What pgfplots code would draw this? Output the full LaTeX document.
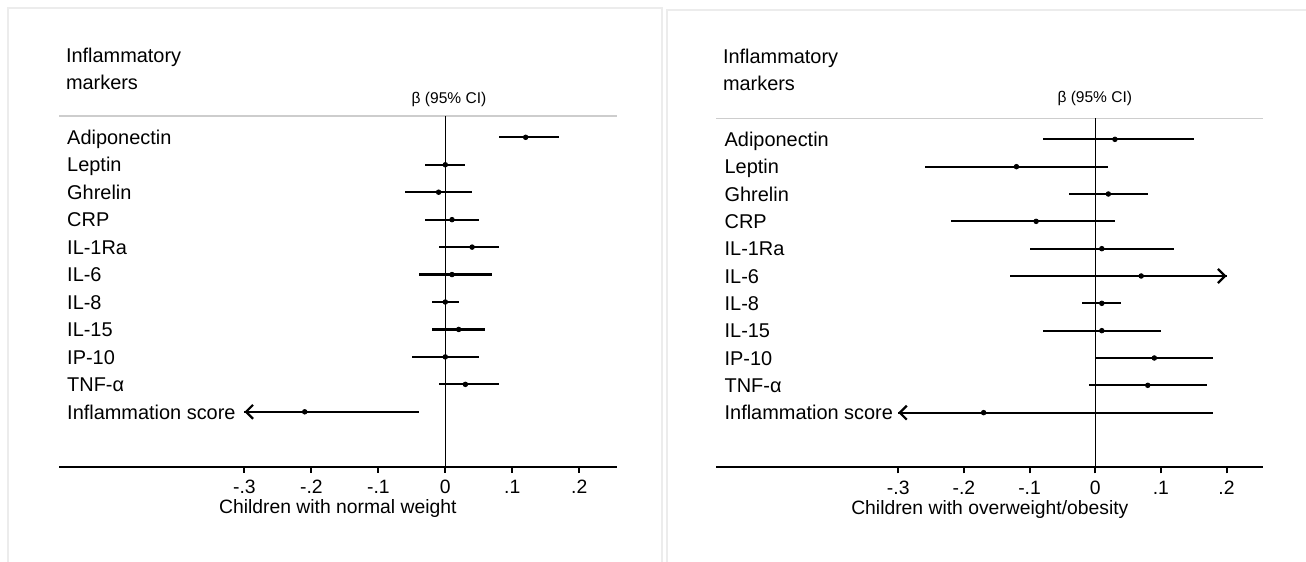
\documentclass[border=0pt]{standalone}
\usepackage{fontspec}
\setmainfont{Liberation Sans}
\usepackage{pgfplots}
\pgfplotsset{compat=1.18}
\usepackage{pgfplotstable}
\usetikzlibrary{arrows.meta}

\definecolor{framegray}{RGB}{236,236,236}
\definecolor{topline}{RGB}{205,205,205}

% row: negative position (1 = top row)
\pgfplotstableread{
row lo pt hi
-1 0.08 0.12 0.17
-2 -0.03 0.00 0.03
-3 -0.06 -0.01 0.04
-4 -0.03 0.01 0.05
-5 -0.01 0.04 0.08
-6 -0.04 0.01 0.07
-7 -0.02 0.00 0.02
-8 -0.02 0.02 0.06
-9 -0.05 0.00 0.05
-10 -0.01 0.03 0.08
-11 -0.30 -0.21 -0.04
}\normaltab

\pgfplotstableread{
row lo pt hi
-1 -0.08 0.03 0.15
-2 -0.26 -0.12 0.02
-3 -0.04 0.02 0.08
-4 -0.22 -0.09 0.03
-5 -0.10 0.01 0.12
-6 -0.13 0.07 0.20
-7 -0.02 0.01 0.04
-8 -0.08 0.01 0.10
-9 0.00 0.09 0.18
-10 -0.01 0.08 0.17
-11 -0.30 -0.17 0.18
}\obesetab

\pgfplotsset{
  forest/.style={
    scale only axis, anchor=south west, clip=false,
    xmin=-0.577, xmax=0.256, ymin=-13,
    axis x line*=bottom, axis y line*=left,
    y axis line style={draw=none},
    x axis line style={line width=1bp},
    xtick={-0.3,-0.2,-0.1,0,0.1,0.2},
    xticklabels={-.3,-.2,-.1,0,.1,.2},
    ytick={-11,-10,-9,-8,-7,-6,-5,-4,-3,-2,-1},
    yticklabels={Inflammation score,TNF-α,IP-10,IL-15,IL-8,IL-6,IL-1Ra,CRP,Ghrelin,Leptin,Adiponectin},
    ytick style={draw=none},
    xtick style={line width=1bp, black},
    tick align=outside, major tick length=3bp,
    yticklabel style={anchor=base west, xshift=3.6bp, yshift=-3.6bp, font=\fontsize{10}{12}\selectfont},
    xticklabel style={anchor=base, yshift=-10.6bp, font=\fontsize{9.7}{12}\selectfont},
    xlabel style={at={(rel axis cs:0.5,0)}, anchor=base, yshift=-23.4bp, font=\fontsize{9.7}{12}\selectfont},
  },
  ci/.style={black, mark=*, mark size=1.15bp, only marks,
    error bars/.cd, x dir=both, x explicit, error mark=none,
    error bar style={line width=1.1bp, black}},
}

\begin{document}
\begin{tikzpicture}
\useasboundingbox (0bp,-281bp) rectangle (653bp,0bp);
\draw[framegray, line width=0.8bp] (4bp,-282bp) -- (4bp,-4bp) -- (330.85bp,-4bp) -- (330.85bp,-282bp);
\draw[framegray, line width=0.8bp] (333.35bp,-282bp) -- (333.35bp,-5bp) -- (654bp,-5bp);

% ---------- left panel ----------
\node[anchor=base west, inner sep=0, font=\fontsize{10}{12}\selectfont] at (32.8bp,-31.2bp) {Inflammatory};
\node[anchor=base west, inner sep=0, font=\fontsize{10}{12}\selectfont] at (32.8bp,-44.8bp) {markers};
\node[anchor=base, inner sep=0, font=\fontsize{7.8}{9}\selectfont] at (224.5bp,-51.75bp) {β (95\% CI)};
\begin{axis}[forest, at={(29.5bp,-233.35bp)}, width=278.85bp, height=175.35bp,
    ymax=-0.224, xlabel={Children with normal weight}]
  \addplot[topline, line width=0.75bp] coordinates {(-0.577,-0.224) (0.256,-0.224)};
  \addplot[black, line width=0.65bp] coordinates {(0,-0.224) (0,-13)};
  \addplot[ci] table[x=pt, y=row,
      x error plus expr=\thisrow{hi}-\thisrow{pt},
      x error minus expr=\thisrow{pt}-\thisrow{lo}] {\normaltab};
  \addplot[black, line width=1.1bp, -{Straight Barb[length=3.5bp,width=7bp]}]
      coordinates {(-0.25,-11) (-0.30,-11)};
\end{axis}

% ---------- right panel ----------
\node[anchor=base west, inner sep=0, font=\fontsize{10}{12}\selectfont] at (361.3bp,-31.5bp) {Inflammatory};
\node[anchor=base west, inner sep=0, font=\fontsize{10}{12}\selectfont] at (361.3bp,-45.3bp) {markers};
\node[anchor=base, inner sep=0, font=\fontsize{7.8}{9}\selectfont] at (547.4bp,-51.2bp) {β (95\% CI)};
\begin{axis}[forest, at={(358.2bp,-233.65bp)}, width=273.45bp, height=174.5bp,
    ymax=-0.23, xlabel={Children with overweight/obesity}]
  \addplot[topline, line width=0.75bp] coordinates {(-0.577,-0.23) (0.256,-0.23)};
  \addplot[black, line width=0.65bp] coordinates {(0,-0.23) (0,-13)};
  \addplot[ci] table[x=pt, y=row,
      x error plus expr=\thisrow{hi}-\thisrow{pt},
      x error minus expr=\thisrow{pt}-\thisrow{lo}] {\obesetab};
  \addplot[black, line width=1.1bp, -{Straight Barb[length=3.5bp,width=7bp]}]
      coordinates {(-0.25,-11) (-0.30,-11)};
  \addplot[black, line width=1.1bp, -{Straight Barb[length=3.5bp,width=7bp]}]
      coordinates {(0.15,-6) (0.20,-6)};
\end{axis}
\end{tikzpicture}
\end{document}
